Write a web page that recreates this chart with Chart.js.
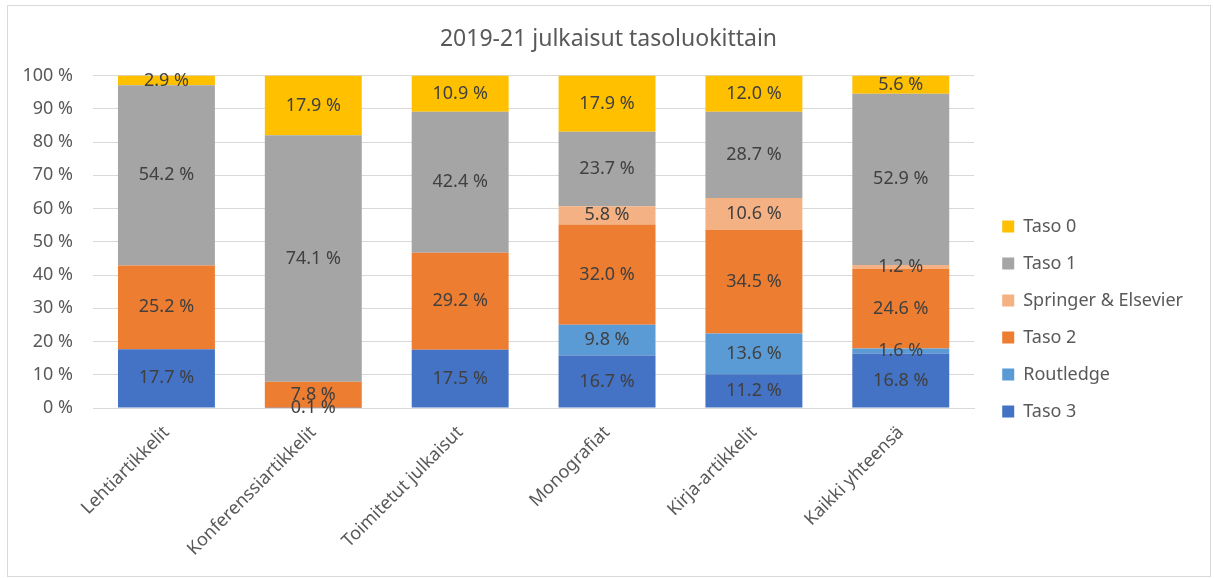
<!DOCTYPE html>
<html>
<head>
<meta charset="utf-8">
<script src="https://cdn.jsdelivr.net/npm/chart.js@4"></script>
<style>
  body { margin: 0; background: #fff; }
  #wrap { position: relative; width: 1214px; height: 578px; }
  #frame { position: absolute; left: 7px; top: 5px; width: 1202px; height: 570px; border: 1px solid #D9D9D9; pointer-events: none; }
</style>
</head>
<body>
<div id="wrap">
  <canvas id="barChart" width="1214" height="578"></canvas>
  <div id="frame"></div>
</div>
<script>
// categories and values (percent)
var categories = ["Lehtiartikkelit", "Konferenssiartikkelit", "Toimitetut julkaisut", "Monografiat", "Kirja-artikkelit", "Kaikki yhteensä"];
var taso3 = [17.7, 0.1, 17.5, 16.7, 11.2, 16.8];
var routledge = [0, 0, 0, 9.8, 13.6, 1.6];
var taso2 = [25.2, 7.8, 29.2, 32.0, 34.5, 24.6];
var springer = [0, 0, 0, 5.8, 10.6, 1.2];
var taso1 = [54.2, 74.1, 42.4, 23.7, 28.7, 52.9];
var taso0 = [2.9, 17.9, 10.9, 17.9, 12.0, 5.6];
var yTicks = [0, 10, 20, 30, 40, 50, 60, 70, 80, 90, 100];

var series = [
    { name: "Taso 3", values: taso3, color: "#4472C4" },
    { name: "Routledge", values: routledge, color: "#5B9BD5" },
    { name: "Taso 2", values: taso2, color: "#ED7D31" },
    { name: "Springer & Elsevier", values: springer, color: "#F4B183" },
    { name: "Taso 1", values: taso1, color: "#A5A5A5" },
    { name: "Taso 0", values: taso0, color: "#FFC000" }
];

// 100 % stacked: each column scaled to its own total
var totals = categories.map(function (c, i) {
    var s = 0;
    series.forEach(function (ser) { s += ser.values[i]; });
    return s;
});

var datasets = series.map(function (ser) {
    return {
        label: ser.name,
        data: ser.values.map(function (v, i) { return v / totals[i] * 100; }),
        raw: ser.values,
        backgroundColor: ser.color,
        borderWidth: 0,
        categoryPercentage: 0.66,
        barPercentage: 1.0
    };
});

var font = "'Noto Sans', 'Open Sans', sans-serif";

var valueLabels = {
    id: 'valueLabels',
    afterDatasetsDraw: function (chart) {
        var ctx = chart.ctx;
        ctx.save();
        ctx.font = "18px " + font;
        ctx.fillStyle = "#404040";
        ctx.textAlign = "center";
        ctx.textBaseline = "middle";
        chart.data.datasets.forEach(function (ds, di) {
            var meta = chart.getDatasetMeta(di);
            meta.data.forEach(function (bar, i) {
                var v = ds.raw[i];
                if (!v) return;
                ctx.fillText(v.toFixed(1) + " %", bar.x, (bar.y + bar.base) / 2);
            });
        });
        ctx.restore();
    }
};

// nudge the legend block and title to where the original has them
var shiftBlocks = {
    id: 'shiftBlocks',
    beforeDraw: function (chart) {
        var lg = chart.legend;
        if (lg && !lg._shifted) {
            lg.top += 26;
            lg.bottom += 26;
            lg.left += 9;
            lg.right += 9;
            lg._shifted = true;
        }
        var tb = chart.titleBlock;
        if (tb && !tb._shifted) {
            tb.left += 9;
            tb.right += 9;
            tb._shifted = true;
        }
    }
};

var ctx = document.getElementById('barChart');
var barChart = new Chart(ctx, {
    type: 'bar',
    data: { labels: categories, datasets: datasets },
    options: {
        responsive: false,
        animation: false,
        layout: { padding: { left: 15, right: 30, top: 8, bottom: 0 } },
        plugins: {
            title: {
                display: true,
                text: "2019-21 julkaisut tasoluokittain",
                color: "#595959",
                font: { family: font, size: 23, weight: 'normal' },
                padding: { top: 18, bottom: 22 }
            },
            legend: {
                position: 'right',
                reverse: true,
                labels: {
                    color: "#595959",
                    font: { family: font, size: 18 },
                    boxWidth: 12,
                    boxHeight: 12,
                    padding: 19
                }
            },
            tooltip: { enabled: false }
        },
        scales: {
            x: {
                stacked: true,
                grid: { display: false },
                border: { color: "#D9D9D9" },
                ticks: {
                    color: "#595959",
                    font: { family: font, size: 18 },
                    minRotation: 45,
                    maxRotation: 45,
                    padding: 6
                },
                afterFit: function (scale) { scale.height = 170; }
            },
            y: {
                stacked: true,
                min: 0,
                max: 100,
                afterBuildTicks: function (scale) {
                    scale.ticks = yTicks.map(function (v) { return { value: v }; });
                },
                grid: { color: "#D9D9D9", drawTicks: false },
                border: { display: false },
                ticks: {
                    color: "#595959",
                    font: { family: font, size: 18 },
                    padding: 20,
                    callback: function (v) { return v + " %"; }
                },
                afterFit: function (scale) { scale.width = 78; }
            }
        }
    },
    plugins: [valueLabels, shiftBlocks]
});
</script>
</body>
</html>
